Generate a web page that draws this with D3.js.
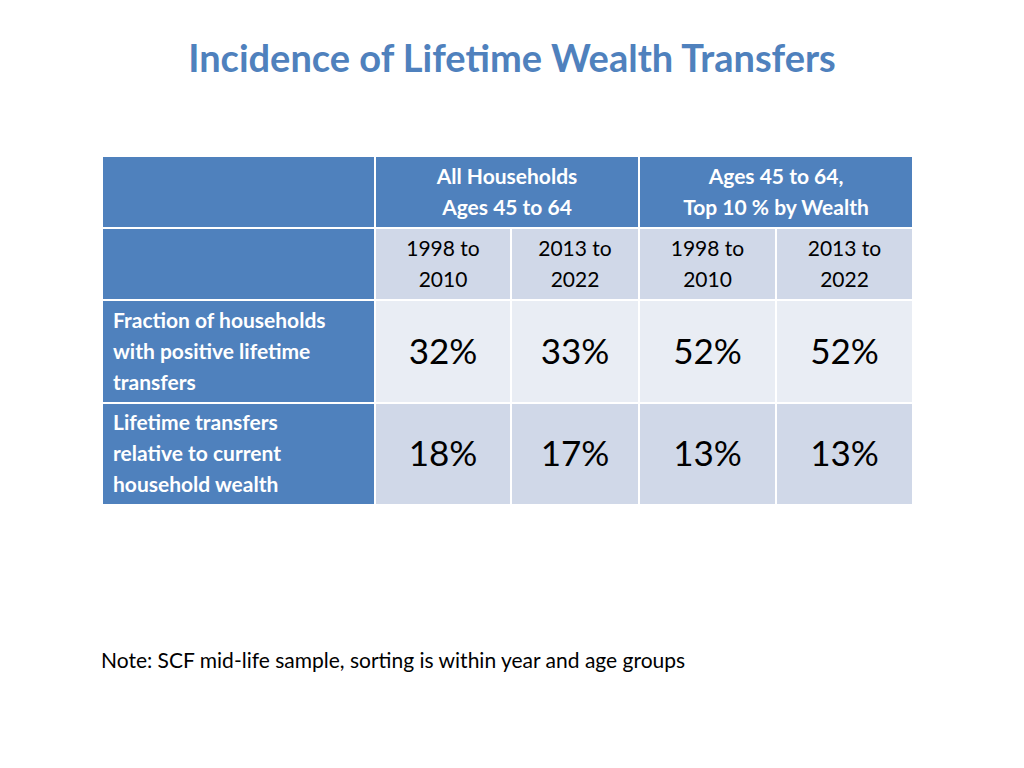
<!DOCTYPE html>
<html><head><meta charset="utf-8">
<script src="https://cdn.jsdelivr.net/npm/d3@7"></script>
<style>body{margin:0;background:#fff}</style></head>
<body><svg id="c" width="1024" height="768"></svg>
<script>
const title = "Incidence of Lifetime Wealth Transfers";
const groups = [["All Households","Ages 45 to 64"],["Ages 45 to 64,","Top 10 % by Wealth"]];
const periods = [["1998 to","2010"],["2013 to","2022"],["1998 to","2010"],["2013 to","2022"]];
const rowLabels = [["Fraction of households","with positive lifetime","transfers"],["Lifetime transfers","relative to current","household wealth"]];
const values = [[32,33,52,52],[18,17,13,13]];
const note = "Note: SCF mid-life sample, sorting is within year and age groups";

const svg = d3.select("#c");
const F = "Lato, 'Open Sans', sans-serif";
const blue = "#4F81BD", light1 = "#E9EDF4", light2 = "#D0D8E8";
const colEdges = [102,375,511,639,776,913];
const rowEdges = [156,228,300,403,505];
const g = 2;

svg.append("text").attr("x",512).attr("y",72).attr("text-anchor","middle")
  .attr("font-family",F).attr("font-weight","bold").attr("font-size",38).attr("fill",blue).text(title);

function cell(x0,x1,y0,y1,fill){
  svg.append("rect").attr("x",x0+1).attr("y",y0+1).attr("width",x1-x0-g).attr("height",y1-y0-g).attr("fill",fill);
}
function lines(x,yc,arr,opt){
  const t = svg.append("text").attr("x",x).attr("font-family",F).attr("font-size",opt.size)
    .attr("font-weight",opt.bold?"bold":"normal").attr("fill",opt.fill).attr("text-anchor",opt.anchor);
  const lh = opt.lh, y0 = yc - (arr.length-1)*lh/2 + opt.size*0.35;
  arr.forEach((s,i)=>t.append("tspan").attr("x",x).attr("y",y0+i*lh).text(s));
}
// header row 1
cell(colEdges[0],colEdges[1],rowEdges[0],rowEdges[1],blue);
groups.forEach((gr,i)=>{
  const x0=colEdges[1+2*i], x1=colEdges[3+2*i];
  cell(x0,x1,rowEdges[0],rowEdges[1],blue);
  lines((x0+x1)/2,(rowEdges[0]+rowEdges[1])/2,gr,{size:21,bold:true,fill:"#fff",anchor:"middle",lh:31});
});
// header row 2
cell(colEdges[0],colEdges[1],rowEdges[1],rowEdges[2],blue);
periods.forEach((p,i)=>{
  const x0=colEdges[i+1], x1=colEdges[i+2];
  cell(x0,x1,rowEdges[1],rowEdges[2],light2);
  lines((x0+x1)/2,(rowEdges[1]+rowEdges[2])/2,p,{size:21,fill:"#000",anchor:"middle",lh:31});
});
// data rows
values.forEach((row,r)=>{
  const y0=rowEdges[2+r], y1=rowEdges[3+r];
  cell(colEdges[0],colEdges[1],y0,y1,blue);
  lines(113,(y0+y1)/2,rowLabels[r],{size:21,bold:true,fill:"#fff",anchor:"start",lh:31});
  row.forEach((v,i)=>{
    const x0=colEdges[i+1], x1=colEdges[i+2];
    cell(x0,x1,y0,y1,r===0?light1:light2);
    lines((x0+x1)/2,(y0+y1)/2,[d3.format("d")(v)+"%"],{size:35,fill:"#000",anchor:"middle",lh:0});
  });
});
svg.append("text").attr("x",101).attr("y",668).attr("font-family",F).attr("font-size",21).attr("fill","#000").text(note);
</script></body></html>
